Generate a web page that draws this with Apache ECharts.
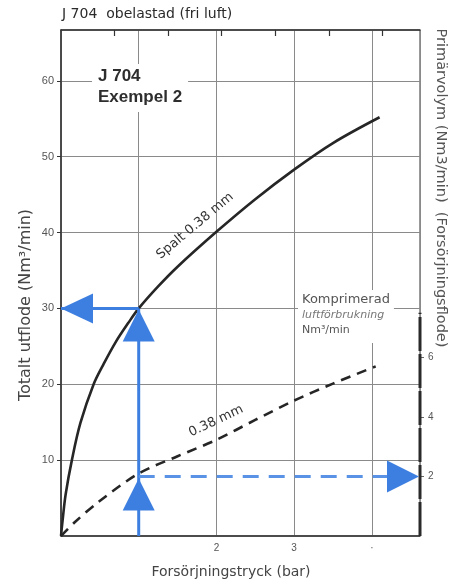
<!DOCTYPE html>
<html>
<head>
<meta charset="utf-8">
<script src="https://cdn.jsdelivr.net/npm/echarts@6/dist/echarts.min.js"></script>
<style>
  html, body { margin: 0; padding: 0; background: #fff; }
  #chart { width: 461px; height: 581px; }
</style>
</head>
<body>
<div id="chart"></div>
<script>
// Supply pressure (bar) vs. total outflow (left) and primary volume (right)
const X_MAX = 4.62;          // bar
const LEFT_MAX = 66.7;       // Nm3/min, total outflow
const RIGHT_MAX = 17.0;      // Nm3/min, primary volume
const BAR_TO_PSI = 14.5038;

const xTickValues = [2, 3, 4];
const xTickLabels = ['2', '3', '·'];
const leftTicks = [10, 20, 30, 40, 50, 60];
const rightTicks = [2, 4, 6];
const psiTicks = [10, 20, 30, 40, 50, 60];

// Total outflow, gap 0.38 mm (solid curve)
const spaltPressure = [0, 0.02, 0.06, 0.14, 0.25, 0.42, 0.545, 0.70, 0.867, 1.00, 1.25, 1.50, 2.00, 2.50, 3.00, 3.50, 4.10];
const spaltFlow     = [0, 2.0,  5.5,  10.0, 14.9, 20.0, 22.6,  25.5, 28.1,  30.0, 32.9, 35.5, 40.1, 44.4, 48.3, 51.8, 55.2];

// Compressed air consumption, 0.38 mm (dashed curve, right axis)
const primPressure = [0, 0.18, 0.48, 1.00, 1.50, 2.00, 2.50, 3.00, 3.50, 4.05];
const primFlow     = [0, 0.47, 1.14, 2.10, 2.68, 3.23, 3.90, 4.55, 5.12, 5.70];

// Example 2 read-out
const examplePressure = 1.0;
const exampleTotal = 30;
const examplePrimary = 2;
const rightAxisDashTop = 7.5;

const zip = (a, b) => a.map((v, i) => [v, b[i]]);

const BLUE = '#3d7fe0';
const INK = '#262626';
const GREY = '#555';
const FONT = '"Liberation Sans", Arial, sans-serif';
const WIDE = '"DejaVu Sans", Verdana, sans-serif';

const chart = echarts.init(document.getElementById('chart'), null, { renderer: 'canvas' });

chart.setOption({
  animation: false,
  backgroundColor: '#fff',
  grid: {
    left: 61, right: 41, top: 30, bottom: 45,
    show: true, borderColor: '#333', borderWidth: 1, backgroundColor: 'transparent'
  },
  xAxis: [
    {
      type: 'value', min: 0, max: X_MAX, interval: 1, position: 'bottom',
      axisLine: { show: true, onZero: false, lineStyle: { color: '#333', width: 1.5 } },
      axisTick: { show: false },
      axisLabel: {
        customValues: xTickValues,
        formatter: v => xTickLabels[xTickValues.indexOf(v)],
        color: GREY, fontSize: 10, fontFamily: FONT, margin: 7
      },
      splitLine: { show: true, lineStyle: { color: '#8a8a8a', width: 1 } }
    },
    {
      // pressure in psi along the top edge
      type: 'value', position: 'top', min: 0, max: X_MAX * BAR_TO_PSI, interval: 10,
      axisLine: { show: true, onZero: false, lineStyle: { color: '#333', width: 1.5 } },
      axisTick: { show: true, inside: true, length: 6, customValues: psiTicks, lineStyle: { color: '#333', width: 1.2 } },
      axisLabel: { show: false },
      splitLine: { show: false }
    }
  ],
  yAxis: [
    {
      type: 'value', min: 0, max: LEFT_MAX, interval: 10, position: 'left',
      axisLine: { show: true, onZero: false, lineStyle: { color: '#333', width: 1.5 } },
      axisTick: { show: true, customValues: leftTicks, length: 4, lineStyle: { color: '#333' } },
      axisLabel: { customValues: leftTicks, color: GREY, fontSize: 11, fontFamily: FONT, margin: 7 },
      splitLine: { show: true, lineStyle: { color: '#8a8a8a', width: 1 } }
    },
    {
      type: 'value', position: 'right', min: 0, max: RIGHT_MAX, interval: 2,
      axisLine: { show: false, onZero: false },
      axisTick: { show: true, customValues: rightTicks, length: 4, lineStyle: { color: '#666' } },
      axisLabel: { customValues: rightTicks, color: GREY, fontSize: 10, fontFamily: FONT, margin: 8 },
      splitLine: { show: false }
    }
  ],
  series: [
    {
      name: 'Spalt 0.38 mm', type: 'line', smooth: 0.35, showSymbol: false, z: 5,
      lineStyle: { color: INK, width: 2.6 },
      data: zip(spaltPressure, spaltFlow)
    },
    {
      name: '0.38 mm', type: 'line', yAxisIndex: 1, smooth: 0.3, showSymbol: false, z: 5,
      lineStyle: { color: INK, width: 2.6, type: [10, 7] },
      data: zip(primPressure, primFlow)
    },
    {
      // primary-volume scale marked on the right border
      type: 'line', yAxisIndex: 1, showSymbol: false, z: 4,
      lineStyle: { color: '#2a2a2a', width: 3, type: [34, 3] },
      data: [[X_MAX, 0], [X_MAX, rightAxisDashTop]]
    },
    {
      type: 'line', showSymbol: false, z: 6,
      lineStyle: { color: BLUE, width: 3 },
      data: [[examplePressure, 0], [examplePressure, exampleTotal]]
    },
    {
      type: 'line', showSymbol: false, z: 6,
      lineStyle: { color: BLUE, width: 3 },
      data: [[0, exampleTotal], [examplePressure, exampleTotal]]
    },
    {
      type: 'line', yAxisIndex: 1, showSymbol: false, z: 6,
      lineStyle: { color: '#5a93e6', width: 3, type: [16, 10] },
      data: [[examplePressure, examplePrimary], [X_MAX - 0.35, examplePrimary]]
    },
    {
      // arrowheads on the total-outflow scale
      type: 'scatter', z: 7, symbol: 'triangle',
      itemStyle: { color: BLUE, opacity: 1 },
      data: [
        { value: [0, exampleTotal], symbolSize: [30, 32], symbolRotate: 90, symbolOffset: [16, 0] },
        { value: [examplePressure, exampleTotal], symbolSize: [32, 32], symbolOffset: [0, 17] }
      ]
    },
    {
      // arrowheads on the primary-volume scale
      type: 'scatter', yAxisIndex: 1, z: 7, symbol: 'triangle',
      itemStyle: { color: BLUE, opacity: 1 },
      data: [
        { value: [examplePressure, examplePrimary], symbolSize: [32, 32], symbolOffset: [0, 18] },
        { value: [X_MAX, examplePrimary], symbolSize: [32, 32], symbolRotate: -90, symbolOffset: [-17, 0] }
      ]
    }
  ],
  graphic: [
    {
      type: 'text', left: 62, top: 7, z: 10,
      style: { text: 'J 704  obelastad (fri luft)', fill: '#2a2a2a', font: '14px ' + WIDE }
    },
    {
      type: 'text', x: 92, y: 64, z: 10,
      style: {
        text: 'J 704\nExempel 2', fill: '#2e2e2e', font: 'bold 17px ' + FONT,
        lineHeight: 21, backgroundColor: '#fff', padding: [2, 6, 4, 6]
      }
    },
    {
      type: 'text', x: 195, y: 226, rotation: 40 * Math.PI / 180, z: 10,
      style: { text: 'Spalt 0.38 mm', fill: '#333', font: '13px ' + WIDE, align: 'center', verticalAlign: 'middle' }
    },
    {
      type: 'text', x: 216, y: 421, rotation: 25 * Math.PI / 180, z: 10,
      style: { text: '0.38 mm', fill: '#333', font: '13px ' + WIDE, align: 'center', verticalAlign: 'middle' }
    },
    {
      type: 'text', x: 298, y: 290, z: 10,
      style: {
        text: '{a|Komprimerad}\n{b|luftförbrukning}\n{c|Nm³/min}',
        backgroundColor: '#fff', padding: [2, 4, 4, 4],
        rich: {
          a: { fill: '#555', font: '13px ' + WIDE, lineHeight: 16 },
          b: { fill: '#777', font: 'italic 11px ' + WIDE, lineHeight: 14 },
          c: { fill: '#555', font: '11px ' + WIDE, lineHeight: 17 }
        }
      }
    },
    {
      type: 'text', x: 26, y: 305, rotation: Math.PI / 2, z: 10,
      style: { text: 'Totalt utflode (Nm³/min)', fill: '#444', font: '16px ' + WIDE, align: 'center', verticalAlign: 'middle' }
    },
    {
      type: 'text', x: 441, y: 188, rotation: -Math.PI / 2, z: 10,
      style: { text: 'Primärvolym (Nm3/min)  (Forsörjningsflode)', fill: '#555', font: '14.5px ' + WIDE, align: 'center', verticalAlign: 'middle' }
    },
    {
      type: 'text', x: 231, y: 572, z: 10,
      style: { text: 'Forsörjningstryck (bar)', fill: '#444', font: '14px ' + WIDE, align: 'center', verticalAlign: 'middle' }
    }
  ]
});
</script>
</body>
</html>
